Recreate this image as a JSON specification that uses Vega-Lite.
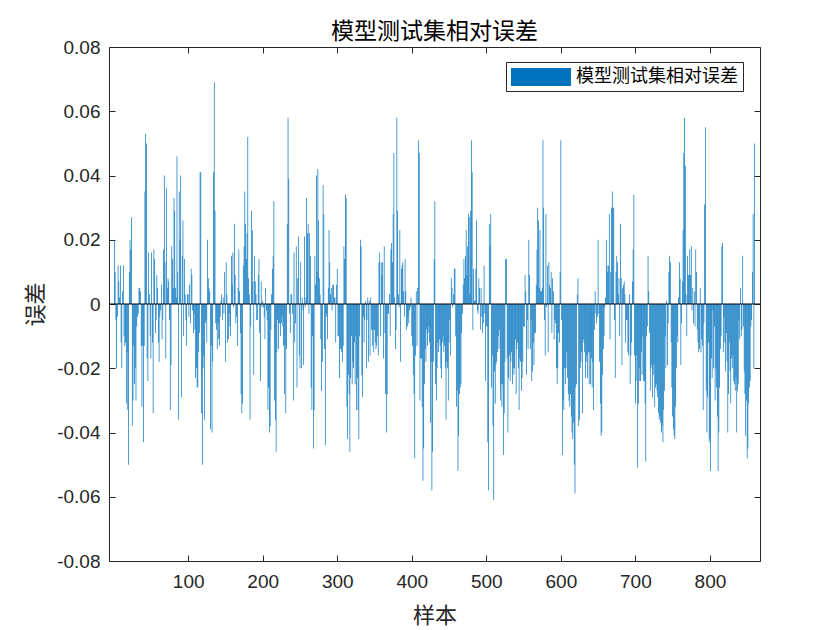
{
"$schema": "https://vega.github.io/schema/vega-lite/v6.json",
"width": 651, "height": 514,
"autosize": {"type": "none"},
"padding": {"left": 109, "top": 47, "right": 80, "bottom": 69},
"background": "white",
"title": {"text": "模型测试集相对误差", "font": "Noto Sans CJK SC", "fontSize": 23, "fontWeight": "normal", "color": "#000000", "anchor": "middle", "offset": 1, "dy": 7},
"data": {"values": [
{"n":1,"v":0.020},{"n":2,"v":0.010},{"n":3,"v":-0.005},{"n":4,"v":-0.020},{"n":5,"v":-0.004},{"n":6,"v":0.012},{"n":7,"v":0.007},{"n":8,"v":0.002},{"n":9,"v":0.012},{"n":10,"v":-0.012},
{"n":11,"v":-0.020},{"n":12,"v":0.004},{"n":13,"v":0.012},{"n":14,"v":-0.010},{"n":15,"v":-0.013},{"n":16,"v":-0.012},{"n":17,"v":-0.031},{"n":18,"v":-0.015},{"n":19,"v":-0.033},{"n":20,"v":-0.050},
{"n":21,"v":0.010},{"n":22,"v":0.020},{"n":23,"v":0.017},{"n":24,"v":0.027},{"n":25,"v":-0.038},{"n":26,"v":-0.030},{"n":27,"v":-0.013},{"n":28,"v":-0.025},{"n":29,"v":-0.020},{"n":30,"v":-0.030},
{"n":31,"v":-0.007},{"n":32,"v":-0.004},{"n":33,"v":-0.003},{"n":34,"v":0.005},{"n":35,"v":0.005},{"n":36,"v":0.004},{"n":37,"v":-0.013},{"n":38,"v":-0.032},{"n":39,"v":-0.013},{"n":40,"v":-0.043},
{"n":41,"v":-0.013},{"n":42,"v":0.035},{"n":43,"v":0.053},{"n":44,"v":0.050},{"n":45,"v":-0.017},{"n":46,"v":-0.024},{"n":47,"v":0.016},{"n":48,"v":0.003},{"n":49,"v":-0.010},{"n":50,"v":-0.017},
{"n":51,"v":0.016},{"n":52,"v":-0.012},{"n":53,"v":-0.034},{"n":54,"v":0.017},{"n":55,"v":0.014},{"n":56,"v":-0.009},{"n":57,"v":-0.005},{"n":58,"v":0.009},{"n":59,"v":0.005},{"n":60,"v":-0.012},
{"n":61,"v":-0.018},{"n":62,"v":-0.004},{"n":63,"v":-0.002},{"n":64,"v":0.006},{"n":65,"v":-0.011},{"n":66,"v":-0.005},{"n":67,"v":0.017},{"n":68,"v":0.040},{"n":69,"v":0.013},{"n":70,"v":-0.017},
{"n":71,"v":0.036},{"n":72,"v":0.005},{"n":73,"v":0.008},{"n":74,"v":0.007},{"n":75,"v":-0.005},{"n":76,"v":-0.033},{"n":77,"v":-0.019},{"n":78,"v":0.018},{"n":79,"v":0.014},{"n":80,"v":0.005},
{"n":81,"v":0.033},{"n":82,"v":0.029},{"n":83,"v":0.005},{"n":84,"v":0.002},{"n":85,"v":0.046},{"n":86,"v":0.010},
{"n":87,"v":-0.036},{"n":88,"v":0.035},{"n":89,"v":0.020},{"n":90,"v":0.040},{"n":91,"v":-0.029},{"n":92,"v":0.015},{"n":93,"v":0.026},{"n":94,"v":-0.010},{"n":95,"v":0.014},{"n":96,"v":0.003},
{"n":97,"v":-0.005},{"n":98,"v":-0.013},{"n":99,"v":0.003},{"n":100,"v":0.003},{"n":101,"v":-0.004},{"n":102,"v":0.006},{"n":103,"v":-0.006},{"n":104,"v":0.011},{"n":105,"v":0.009},{"n":106,"v":-0.002},
{"n":107,"v":-0.009},{"n":108,"v":-0.003},{"n":109,"v":-0.008},{"n":110,"v":-0.023},{"n":111,"v":-0.020},{"n":112,"v":-0.026},{"n":113,"v":-0.026},{"n":114,"v":-0.015},{"n":115,"v":-0.009},{"n":116,"v":0.041},
{"n":117,"v":0.041},{"n":118,"v":-0.034},{"n":119,"v":-0.050},{"n":120,"v":-0.020},{"n":121,"v":-0.016},{"n":122,"v":-0.036},{"n":123,"v":-0.006},{"n":124,"v":-0.005},{"n":125,"v":-0.012},{"n":126,"v":0.020},
{"n":127,"v":0.008},{"n":128,"v":0.005},{"n":129,"v":0.004},{"n":130,"v":-0.039},{"n":131,"v":-0.013},{"n":132,"v":-0.040},{"n":133,"v":-0.018},{"n":134,"v":0.041},{"n":135,"v":0.069},{"n":136,"v":0.029},
{"n":137,"v":-0.006},{"n":138,"v":-0.008},{"n":139,"v":-0.014},{"n":140,"v":-0.006},{"n":141,"v":-0.011},{"n":142,"v":-0.013},{"n":143,"v":-0.004},{"n":144,"v":0.001},{"n":145,"v":0.003},{"n":146,"v":-0.005},
{"n":147,"v":0.002},{"n":148,"v":-0.003},{"n":149,"v":0.010},{"n":150,"v":-0.018},{"n":151,"v":0.013},{"n":152,"v":0.003},{"n":153,"v":-0.012},{"n":154,"v":-0.011},{"n":155,"v":-0.003},{"n":156,"v":-0.007},
{"n":157,"v":-0.010},{"n":158,"v":0.015},{"n":159,"v":0.006},{"n":160,"v":0.016},{"n":161,"v":-0.001},{"n":162,"v":0.025},{"n":163,"v":0.009},{"n":164,"v":-0.006},{"n":165,"v":-0.004},{"n":166,"v":-0.013},
{"n":167,"v":0.005},{"n":168,"v":0.017},{"n":169,"v":0.004},{"n":170,"v":-0.009},{"n":171,"v":-0.028},{"n":172,"v":-0.034},
{"n":173,"v":-0.031},{"n":174,"v":0.012},{"n":175,"v":0.018},{"n":176,"v":0.035},{"n":177,"v":0.025},{"n":178,"v":0.014},{"n":179,"v":0.022},{"n":180,"v":0.052},{"n":181,"v":0.008},{"n":182,"v":0.003},
{"n":183,"v":-0.036},{"n":184,"v":-0.007},{"n":185,"v":0.029},{"n":186,"v":0.023},{"n":187,"v":0.007},{"n":188,"v":-0.022},{"n":189,"v":0.015},{"n":190,"v":0.007},{"n":191,"v":0.003},{"n":192,"v":-0.005},
{"n":193,"v":-0.005},{"n":194,"v":0.009},{"n":195,"v":0.014},{"n":196,"v":-0.009},{"n":197,"v":-0.024},{"n":198,"v":0.007},{"n":199,"v":-0.001},{"n":200,"v":0.001},{"n":201,"v":-0.001},{"n":202,"v":-0.004},
{"n":203,"v":-0.011},{"n":204,"v":0.005},{"n":205,"v":-0.002},{"n":206,"v":-0.005},{"n":207,"v":-0.033},{"n":208,"v":-0.026},{"n":209,"v":-0.040},{"n":210,"v":-0.038},{"n":211,"v":-0.008},{"n":212,"v":0.003},
{"n":213,"v":0.011},{"n":214,"v":0.015},{"n":215,"v":0.032},{"n":216,"v":-0.030},{"n":217,"v":-0.036},{"n":218,"v":-0.046},{"n":219,"v":-0.015},{"n":220,"v":-0.005},{"n":221,"v":-0.014},{"n":222,"v":-0.006},
{"n":223,"v":-0.006},{"n":224,"v":-0.010},{"n":225,"v":-0.006},{"n":226,"v":-0.004},{"n":227,"v":-0.007},{"n":228,"v":-0.013},{"n":229,"v":-0.028},{"n":230,"v":-0.013},{"n":231,"v":-0.034},{"n":232,"v":-0.014},
{"n":233,"v":0.025},{"n":234,"v":0.058},{"n":235,"v":0.039},{"n":236,"v":-0.003},{"n":237,"v":-0.009},{"n":238,"v":0.003},{"n":239,"v":0.003},{"n":240,"v":-0.003},{"n":241,"v":-0.030},{"n":242,"v":0.016},
{"n":243,"v":-0.012},{"n":244,"v":-0.006},{"n":245,"v":0.018},{"n":246,"v":-0.026},{"n":247,"v":0.008},{"n":248,"v":0.021},{"n":249,"v":-0.016},{"n":250,"v":-0.020},{"n":251,"v":0.013},{"n":252,"v":-0.020},
{"n":253,"v":0.002},{"n":254,"v":-0.002},{"n":255,"v":-0.019},{"n":256,"v":0.021},{"n":257,"v":-0.001},{"n":258,"v":0.002},
{"n":259,"v":0.033},{"n":260,"v":0.022},{"n":261,"v":0.025},{"n":262,"v":-0.003},{"n":263,"v":0.022},{"n":264,"v":0.015},{"n":265,"v":-0.026},{"n":266,"v":-0.033},{"n":267,"v":-0.010},{"n":268,"v":-0.045},
{"n":269,"v":-0.033},{"n":270,"v":0.015},{"n":271,"v":0.006},{"n":272,"v":0.040},{"n":273,"v":0.010},{"n":274,"v":0.042},{"n":275,"v":0.026},{"n":276,"v":0.008},{"n":277,"v":0.003},{"n":278,"v":-0.011},
{"n":279,"v":-0.027},{"n":280,"v":-0.018},{"n":281,"v":0.037},{"n":282,"v":0.028},{"n":283,"v":-0.014},{"n":284,"v":-0.044},{"n":285,"v":-0.003},{"n":286,"v":-0.004},{"n":287,"v":-0.011},{"n":288,"v":0.005},
{"n":289,"v":0.023},{"n":290,"v":0.013},{"n":291,"v":0.003},{"n":292,"v":0.005},{"n":293,"v":-0.002},{"n":294,"v":0.006},{"n":295,"v":0.006},{"n":296,"v":0.002},{"n":297,"v":0.002},{"n":298,"v":-0.012},
{"n":299,"v":0.006},{"n":300,"v":0.011},{"n":301,"v":-0.010},{"n":302,"v":-0.010},{"n":303,"v":-0.023},{"n":304,"v":-0.014},{"n":305,"v":-0.014},{"n":306,"v":-0.015},{"n":307,"v":-0.018},{"n":308,"v":-0.013},
{"n":309,"v":0.018},{"n":310,"v":0.014},{"n":311,"v":0.034},{"n":312,"v":0.033},{"n":313,"v":-0.032},{"n":314,"v":-0.042},{"n":315,"v":-0.022},{"n":316,"v":-0.028},{"n":317,"v":-0.046},{"n":318,"v":-0.023},
{"n":319,"v":-0.010},{"n":320,"v":-0.025},{"n":321,"v":-0.018},{"n":322,"v":-0.020},{"n":323,"v":-0.012},{"n":324,"v":-0.025},{"n":325,"v":-0.010},{"n":326,"v":-0.033},{"n":327,"v":-0.023},{"n":328,"v":-0.033},
{"n":329,"v":-0.042},{"n":330,"v":-0.010},{"n":331,"v":0.020},{"n":332,"v":0.018},{"n":333,"v":-0.022},{"n":334,"v":-0.029},{"n":335,"v":-0.004},{"n":336,"v":-0.012},{"n":337,"v":-0.005},{"n":338,"v":0.001},
{"n":339,"v":-0.020},{"n":340,"v":-0.005},{"n":341,"v":0.002},{"n":342,"v":-0.018},{"n":343,"v":0.001},{"n":344,"v":-0.016},
{"n":345,"v":0.002},{"n":346,"v":-0.008},{"n":347,"v":-0.013},{"n":348,"v":-0.008},{"n":349,"v":-0.015},{"n":350,"v":-0.008},{"n":351,"v":-0.012},{"n":352,"v":-0.014},{"n":353,"v":-0.013},{"n":354,"v":-0.010},
{"n":355,"v":-0.016},{"n":356,"v":0.013},{"n":357,"v":0.016},{"n":358,"v":-0.010},{"n":359,"v":0.013},{"n":360,"v":0.009},{"n":361,"v":0.013},{"n":362,"v":-0.017},{"n":363,"v":0.018},{"n":364,"v":-0.009},
{"n":365,"v":-0.028},{"n":366,"v":-0.040},{"n":367,"v":-0.028},{"n":368,"v":-0.003},{"n":369,"v":-0.003},{"n":370,"v":0.003},{"n":371,"v":-0.010},{"n":372,"v":0.017},{"n":373,"v":0.019},{"n":374,"v":0.013},
{"n":375,"v":0.028},{"n":376,"v":0.047},{"n":377,"v":0.002},{"n":378,"v":-0.014},{"n":379,"v":-0.008},{"n":380,"v":0.058},{"n":381,"v":0.029},{"n":382,"v":0.003},{"n":383,"v":-0.001},{"n":384,"v":0.023},
{"n":385,"v":-0.018},{"n":386,"v":0.011},{"n":387,"v":0.012},{"n":388,"v":0.013},{"n":389,"v":0.004},{"n":390,"v":-0.004},{"n":391,"v":0.014},{"n":392,"v":0.004},{"n":393,"v":-0.008},{"n":394,"v":-0.007},
{"n":395,"v":-0.004},{"n":396,"v":-0.006},{"n":397,"v":-0.002},{"n":398,"v":-0.001},{"n":399,"v":0.002},{"n":400,"v":-0.010},{"n":401,"v":-0.013},{"n":402,"v":-0.022},{"n":403,"v":-0.028},{"n":404,"v":-0.048},
{"n":405,"v":-0.016},{"n":406,"v":0.004},{"n":407,"v":-0.013},{"n":408,"v":0.005},{"n":409,"v":0.051},{"n":410,"v":0.047},{"n":411,"v":-0.030},{"n":412,"v":-0.017},{"n":413,"v":-0.017},{"n":414,"v":-0.032},
{"n":415,"v":-0.055},{"n":416,"v":-0.045},{"n":417,"v":-0.025},{"n":418,"v":-0.014},{"n":419,"v":-0.018},{"n":420,"v":-0.008},{"n":421,"v":-0.013},{"n":422,"v":-0.009},{"n":423,"v":-0.007},{"n":424,"v":-0.012},
{"n":425,"v":-0.037},{"n":426,"v":-0.018},{"n":427,"v":-0.058},{"n":428,"v":-0.046},{"n":429,"v":-0.018},{"n":430,"v":0.014},
{"n":431,"v":0.032},{"n":432,"v":-0.025},{"n":433,"v":-0.030},{"n":434,"v":-0.020},{"n":435,"v":-0.012},{"n":436,"v":-0.015},{"n":437,"v":-0.011},{"n":438,"v":-0.013},{"n":439,"v":-0.020},{"n":440,"v":-0.023},
{"n":441,"v":-0.012},{"n":442,"v":-0.010},{"n":443,"v":-0.015},{"n":444,"v":-0.013},{"n":445,"v":-0.020},{"n":446,"v":-0.036},{"n":447,"v":-0.018},{"n":448,"v":-0.020},{"n":449,"v":-0.030},{"n":450,"v":-0.012},
{"n":451,"v":-0.005},{"n":452,"v":-0.016},{"n":453,"v":0.008},{"n":454,"v":0.005},{"n":455,"v":-0.001},{"n":456,"v":0.003},{"n":457,"v":0.011},{"n":458,"v":0.011},{"n":459,"v":-0.010},{"n":460,"v":-0.032},
{"n":461,"v":-0.027},{"n":462,"v":-0.052},{"n":463,"v":-0.041},{"n":464,"v":-0.028},{"n":465,"v":-0.026},{"n":466,"v":-0.025},{"n":467,"v":-0.009},{"n":468,"v":-0.003},{"n":469,"v":0.006},{"n":470,"v":0.014},
{"n":471,"v":0.008},{"n":472,"v":0.015},{"n":473,"v":0.023},{"n":474,"v":0.009},{"n":475,"v":0.018},{"n":476,"v":0.028},{"n":477,"v":0.027},{"n":478,"v":0.003},{"n":479,"v":0.029},{"n":480,"v":0.051},
{"n":481,"v":0.041},{"n":482,"v":-0.008},{"n":483,"v":0.011},{"n":484,"v":0.001},{"n":485,"v":0.001},{"n":486,"v":0.011},{"n":487,"v":0.026},{"n":488,"v":-0.002},{"n":489,"v":-0.003},{"n":490,"v":0.008},
{"n":491,"v":0.005},{"n":492,"v":-0.008},{"n":493,"v":0.005},{"n":494,"v":-0.004},{"n":495,"v":-0.009},{"n":496,"v":-0.006},{"n":497,"v":0.012},{"n":498,"v":-0.003},{"n":499,"v":-0.024},{"n":500,"v":-0.007},
{"n":501,"v":-0.007},{"n":502,"v":-0.043},{"n":503,"v":-0.058},{"n":504,"v":0.025},{"n":505,"v":0.018},{"n":506,"v":0.028},{"n":507,"v":-0.026},{"n":508,"v":-0.016},{"n":509,"v":-0.038},{"n":510,"v":-0.061},
{"n":511,"v":-0.021},{"n":512,"v":-0.031},{"n":513,"v":-0.019},{"n":514,"v":-0.018},{"n":515,"v":-0.015},{"n":516,"v":-0.010},
{"n":517,"v":-0.014},{"n":518,"v":-0.008},{"n":519,"v":-0.030},{"n":520,"v":-0.025},{"n":521,"v":-0.032},{"n":522,"v":-0.025},{"n":523,"v":-0.047},{"n":524,"v":-0.034},{"n":525,"v":-0.018},{"n":526,"v":0.014},
{"n":527,"v":0.014},{"n":528,"v":-0.017},{"n":529,"v":-0.040},{"n":530,"v":-0.023},{"n":531,"v":-0.016},{"n":532,"v":-0.024},{"n":533,"v":-0.018},{"n":534,"v":-0.015},{"n":535,"v":-0.025},{"n":536,"v":-0.020},
{"n":537,"v":-0.022},{"n":538,"v":-0.020},{"n":539,"v":-0.011},{"n":540,"v":-0.028},{"n":541,"v":-0.014},{"n":542,"v":-0.012},{"n":543,"v":-0.020},{"n":544,"v":-0.033},{"n":545,"v":-0.017},{"n":546,"v":-0.018},
{"n":547,"v":-0.027},{"n":548,"v":-0.023},{"n":549,"v":-0.018},{"n":550,"v":-0.007},{"n":551,"v":-0.007},{"n":552,"v":0.009},{"n":553,"v":0.004},{"n":554,"v":-0.022},{"n":555,"v":-0.005},{"n":556,"v":-0.014},
{"n":557,"v":0.020},{"n":558,"v":0.009},{"n":559,"v":-0.014},{"n":560,"v":-0.005},{"n":561,"v":-0.024},{"n":562,"v":-0.021},{"n":563,"v":-0.012},{"n":564,"v":-0.019},{"n":565,"v":-0.009},{"n":566,"v":-0.009},
{"n":567,"v":0.006},{"n":568,"v":0.017},{"n":569,"v":0.030},{"n":570,"v":0.026},{"n":571,"v":0.005},{"n":572,"v":0.023},{"n":573,"v":0.004},{"n":574,"v":0.004},{"n":575,"v":0.005},{"n":576,"v":0.051},
{"n":577,"v":0.030},{"n":578,"v":-0.005},{"n":579,"v":-0.016},{"n":580,"v":0.028},{"n":581,"v":-0.001},{"n":582,"v":0.012},{"n":583,"v":-0.015},{"n":584,"v":0.013},{"n":585,"v":0.006},{"n":586,"v":0.005},
{"n":587,"v":0.010},{"n":588,"v":-0.009},{"n":589,"v":0.008},{"n":590,"v":0.004},{"n":591,"v":-0.011},{"n":592,"v":-0.005},{"n":593,"v":-0.006},{"n":594,"v":-0.020},{"n":595,"v":-0.025},{"n":596,"v":-0.020},
{"n":597,"v":-0.009},{"n":598,"v":-0.012},{"n":599,"v":0.010},{"n":600,"v":0.051},{"n":601,"v":-0.005},{"n":602,"v":-0.047},
{"n":603,"v":-0.030},{"n":604,"v":-0.033},{"n":605,"v":-0.020},{"n":606,"v":-0.025},{"n":607,"v":-0.020},{"n":608,"v":-0.015},{"n":609,"v":-0.023},{"n":610,"v":-0.028},{"n":611,"v":-0.030},{"n":612,"v":-0.032},
{"n":613,"v":-0.028},{"n":614,"v":-0.035},{"n":615,"v":-0.040},{"n":616,"v":-0.042},{"n":617,"v":-0.037},{"n":618,"v":-0.050},{"n":619,"v":-0.059},{"n":620,"v":-0.026},{"n":621,"v":-0.025},{"n":622,"v":0.003},
{"n":623,"v":0.008},{"n":624,"v":-0.038},{"n":625,"v":-0.036},{"n":626,"v":-0.020},{"n":627,"v":-0.018},{"n":628,"v":-0.015},{"n":629,"v":-0.034},{"n":630,"v":-0.011},{"n":631,"v":-0.012},{"n":632,"v":-0.015},
{"n":633,"v":-0.023},{"n":634,"v":-0.018},{"n":635,"v":-0.016},{"n":636,"v":-0.023},{"n":637,"v":-0.015},{"n":638,"v":-0.025},{"n":639,"v":-0.015},{"n":640,"v":-0.025},{"n":641,"v":-0.017},{"n":642,"v":-0.026},
{"n":643,"v":-0.018},{"n":644,"v":-0.033},{"n":645,"v":-0.008},{"n":646,"v":0.004},{"n":647,"v":-0.003},{"n":648,"v":-0.006},{"n":649,"v":-0.004},{"n":650,"v":0.020},{"n":651,"v":-0.003},{"n":652,"v":-0.018},
{"n":653,"v":-0.031},{"n":654,"v":-0.041},{"n":655,"v":-0.040},{"n":656,"v":-0.022},{"n":657,"v":-0.014},{"n":658,"v":-0.010},{"n":659,"v":-0.001},{"n":660,"v":0.002},{"n":661,"v":0.020},{"n":662,"v":0.012},
{"n":663,"v":0.010},{"n":664,"v":0.012},{"n":665,"v":0.028},{"n":666,"v":-0.011},{"n":667,"v":0.010},{"n":668,"v":0.030},{"n":669,"v":0.035},{"n":670,"v":0.030},{"n":671,"v":0.030},{"n":672,"v":-0.005},
{"n":673,"v":-0.023},{"n":674,"v":0.010},{"n":675,"v":0.015},{"n":676,"v":0.013},{"n":677,"v":0.003},{"n":678,"v":0.008},{"n":679,"v":-0.010},{"n":680,"v":0.025},{"n":681,"v":0.008},{"n":682,"v":-0.019},
{"n":683,"v":0.005},{"n":684,"v":0.006},{"n":685,"v":0.007},{"n":686,"v":0.003},{"n":687,"v":-0.012},{"n":688,"v":-0.005},
{"n":689,"v":-0.005},{"n":690,"v":-0.015},{"n":691,"v":-0.016},{"n":692,"v":0.003},{"n":693,"v":-0.025},{"n":694,"v":-0.016},{"n":695,"v":-0.012},{"n":696,"v":0.007},{"n":697,"v":0.017},{"n":698,"v":0.034},
{"n":699,"v":-0.016},{"n":700,"v":-0.031},{"n":701,"v":-0.024},{"n":702,"v":-0.016},{"n":703,"v":-0.051},{"n":704,"v":-0.031},{"n":705,"v":-0.020},{"n":706,"v":-0.024},{"n":707,"v":-0.024},{"n":708,"v":-0.015},
{"n":709,"v":-0.022},{"n":710,"v":-0.010},{"n":711,"v":-0.024},{"n":712,"v":-0.024},{"n":713,"v":-0.031},{"n":714,"v":-0.049},{"n":715,"v":-0.010},{"n":716,"v":-0.007},{"n":717,"v":0.015},{"n":718,"v":0.004},
{"n":719,"v":-0.009},{"n":720,"v":-0.027},{"n":721,"v":-0.020},{"n":722,"v":-0.019},{"n":723,"v":-0.029},{"n":724,"v":-0.022},{"n":725,"v":-0.019},{"n":726,"v":-0.032},{"n":727,"v":-0.026},{"n":728,"v":-0.025},
{"n":729,"v":-0.027},{"n":730,"v":-0.029},{"n":731,"v":-0.034},{"n":732,"v":-0.036},{"n":733,"v":-0.035},{"n":734,"v":-0.037},{"n":735,"v":-0.040},{"n":736,"v":-0.038},{"n":737,"v":-0.043},{"n":738,"v":-0.033},
{"n":739,"v":-0.027},{"n":740,"v":-0.010},{"n":741,"v":-0.020},{"n":742,"v":0.001},{"n":743,"v":-0.019},{"n":744,"v":-0.006},{"n":745,"v":0.010},{"n":746,"v":0.015},{"n":747,"v":0.013},{"n":748,"v":-0.012},
{"n":749,"v":-0.026},{"n":750,"v":-0.035},{"n":751,"v":-0.039},{"n":752,"v":-0.041},{"n":753,"v":-0.042},{"n":754,"v":-0.032},{"n":755,"v":-0.020},{"n":756,"v":-0.010},{"n":757,"v":-0.012},{"n":758,"v":0.002},
{"n":759,"v":0.013},{"n":760,"v":0.008},{"n":761,"v":-0.019},{"n":762,"v":-0.006},{"n":763,"v":0.007},{"n":764,"v":0.023},{"n":765,"v":0.047},{"n":766,"v":0.058},{"n":767,"v":0.043},{"n":768,"v":0.003},
{"n":769,"v":-0.010},{"n":770,"v":0.015},{"n":771,"v":0.009},{"n":772,"v":0.009},{"n":773,"v":0.017},{"n":774,"v":0.009},
{"n":775,"v":0.018},{"n":776,"v":-0.002},{"n":777,"v":0.005},{"n":778,"v":-0.006},{"n":779,"v":0.004},{"n":780,"v":-0.007},{"n":781,"v":0.017},{"n":782,"v":0.010},{"n":783,"v":-0.008},{"n":784,"v":-0.012},
{"n":785,"v":-0.015},{"n":786,"v":-0.014},{"n":787,"v":0.005},{"n":788,"v":-0.015},{"n":789,"v":-0.011},{"n":790,"v":-0.013},{"n":791,"v":-0.033},{"n":792,"v":-0.006},{"n":793,"v":0.031},{"n":794,"v":0.055},
{"n":795,"v":-0.027},{"n":796,"v":-0.040},{"n":797,"v":-0.029},{"n":798,"v":-0.012},{"n":799,"v":-0.043},{"n":800,"v":-0.042},{"n":801,"v":-0.052},{"n":802,"v":-0.017},{"n":803,"v":-0.023},{"n":804,"v":-0.002},
{"n":805,"v":-0.020},{"n":806,"v":-0.007},{"n":807,"v":-0.030},{"n":808,"v":-0.020},{"n":809,"v":-0.026},{"n":810,"v":-0.035},{"n":811,"v":-0.052},{"n":812,"v":-0.040},{"n":813,"v":-0.026},{"n":814,"v":-0.014},
{"n":815,"v":-0.010},{"n":816,"v":0.018},{"n":817,"v":0.019},{"n":818,"v":-0.015},{"n":819,"v":-0.004},{"n":820,"v":-0.012},{"n":821,"v":-0.021},{"n":822,"v":-0.009},{"n":823,"v":-0.018},{"n":824,"v":-0.040},
{"n":825,"v":-0.028},{"n":826,"v":-0.012},{"n":827,"v":-0.021},{"n":828,"v":-0.031},{"n":829,"v":-0.017},{"n":830,"v":-0.020},{"n":831,"v":-0.016},{"n":832,"v":-0.024},{"n":833,"v":-0.025},{"n":834,"v":-0.027},
{"n":835,"v":-0.023},{"n":836,"v":-0.040},{"n":837,"v":-0.027},{"n":838,"v":-0.025},{"n":839,"v":-0.005},{"n":840,"v":-0.011},{"n":841,"v":0.005},{"n":842,"v":-0.010},{"n":843,"v":-0.008},{"n":844,"v":0.015},
{"n":845,"v":-0.007},{"n":846,"v":-0.021},{"n":847,"v":-0.028},{"n":848,"v":-0.041},{"n":849,"v":-0.030},{"n":850,"v":-0.048},{"n":851,"v":-0.045},{"n":852,"v":-0.031},{"n":853,"v":-0.026},{"n":854,"v":-0.024},
{"n":855,"v":-0.007},{"n":856,"v":-0.005},{"n":857,"v":0.010},{"n":858,"v":0.028},{"n":859,"v":-0.020},{"n":860,"v":0.050}
]},
"layer": [
{"mark": {"type": "bar", "size": 0.7},
 "encoding": {
  "x": {"field": "n", "type": "quantitative", "scale": {"domain": [0.5, 860.5], "nice": false, "zero": false},
        "axis": {"orient": "bottom", "values": [100,200,300,400,500,600,700,800], "grid": false, "tickSize": -6, "tickColor": "#262626", "domainColor": "#262626", "labelFont": "Liberation Sans", "labelFontSize": 19, "labelColor": "#262626", "labelPadding": 17, "labelFlush": false,
                 "title": "样本", "titleFont": "Noto Sans CJK SC", "titleFontSize": 22, "titleFontWeight": "normal", "titleColor": "#262626", "titleX": 325.5, "titleY": 54, "titleBaseline": "middle", "titleAlign": "center"}},
  "y": {"field": "v", "type": "quantitative", "stack": null, "scale": {"domain": [-0.08, 0.08], "nice": false},
        "axis": {"orient": "left", "values": [-0.08,-0.06,-0.04,-0.02,0,0.02,0.04,0.06,0.08], "grid": false, "tickSize": -6, "tickColor": "#262626", "domainColor": "#262626", "labelFont": "Liberation Sans", "labelFontSize": 19, "labelColor": "#262626", "labelPadding": 15, "labelFlush": false,
                 "labelExpr": "datum.value == 0 ? '0' : replace(format(datum.value, '.2f'), '\u2212', '-')",
                 "title": "误差", "titleFont": "Noto Sans CJK SC", "titleFontSize": 22, "titleFontWeight": "normal", "titleColor": "#262626", "titleX": -74, "titleY": 257, "titleAngle": 270, "titleBaseline": "middle", "titleAlign": "center"}},
  "color": {"datum": "模型测试集相对误差", "scale": {"range": ["#0072BD"]},
        "legend": {"orient": "none", "legendX": 397, "legendY": 15, "title": null, "symbolType": "M-3,-0.9L3,-0.9L3,0.9L-3,0.9Z", "symbolSize": 400, "symbolOffset": 20, "symbolStrokeWidth": 0, "symbolOpacity": 1, "labelFont": "Noto Sans CJK SC", "labelFontSize": 18, "labelColor": "#000000", "labelOffset": 25, "labelLimit": 0, "padding": 5, "strokeColor": "#262626", "fillColor": "#ffffff"}}
 }},
{"data": {"values": [{"z": 0}]}, "mark": {"type": "rule", "color": "#000000", "strokeWidth": 1},
 "encoding": {"y": {"datum": 0, "type": "quantitative", "axis": null}}},
{"mark": {"type": "point", "opacity": 0},
 "encoding": {
  "x": {"field": "n", "type": "quantitative", "axis": {"orient": "top", "values": [100,200,300,400,500,600,700,800], "labels": false, "title": null, "grid": false, "tickSize": -6, "tickColor": "#262626", "domainColor": "#262626"}},
  "y": {"field": "v", "type": "quantitative", "axis": {"orient": "right", "values": [-0.08,-0.06,-0.04,-0.02,0,0.02,0.04,0.06,0.08], "labels": false, "title": null, "grid": false, "tickSize": -6, "tickColor": "#262626", "domainColor": "#262626"}}
 }}
],
"resolve": {"axis": {"x": "independent", "y": "independent"}},
"config": {"view": {"stroke": null}}
}
